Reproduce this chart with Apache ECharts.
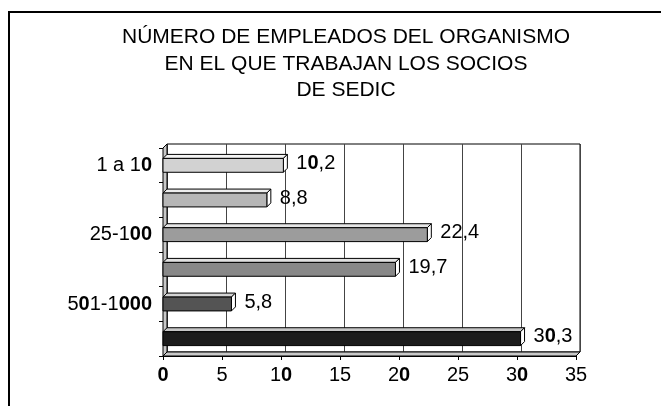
<!doctype html>
<html lang="es">
<head>
<meta charset="UTF-8">
<title>Número de empleados</title>
<script src="https://cdn.jsdelivr.net/npm/echarts@6/dist/echarts.min.js"></script>
<style>
  html, body { margin: 0; padding: 0; background: #fff; }
  #main { width: 661px; height: 406px; }
</style>
</head>
<body>
<div id="main"></div>
<script>
// datos
var categories = ['1 a 10', '11 a 25', '25-100', '101-500', '501-1000', 'Más de 1000'];
var values = [10.2, 8.8, 22.4, 19.7, 5.8, 30.3];
var axisMin = 0, axisMax = 35, axisStep = 5;

// estilos
var barColors = ['#d2d2d2', '#b6b6b6', '#9c9c9c', '#888888', '#545454', '#1c1c1c'];
var FONT = '"Liberation Sans", Arial, sans-serif';
var DEPTH = 4;

// los ceros salen en negrita en el original
function boldZeros(s) { return String(s).replace(/0/g, '{b|0}'); }
function richB(size) { return { b: { fontWeight: 'bold', fontSize: size, fontFamily: FONT, color: '#000' } }; }

function lighten(hex, k) {
  var n = parseInt(hex.slice(1), 16);
  var r = (n >> 16) & 255, g = (n >> 8) & 255, b = n & 255;
  r = Math.round(r + (255 - r) * k); g = Math.round(g + (255 - g) * k); b = Math.round(b + (255 - b) * k);
  return 'rgb(' + r + ',' + g + ',' + b + ')';
}

var myChart = echarts.init(document.getElementById('main'));

var option = {
  animation: false,
  title: {
    text: 'NÚMERO DE EMPLEADOS DEL ORGANISMO\nEN EL QUE TRABAJAN LOS SOCIOS\nDE SEDIC',
    left: 341,
    textAlign: 'center',
    top: 19,
    textStyle: { fontFamily: FONT, fontSize: 21, fontWeight: 'normal', color: '#000', lineHeight: 26.5 }
  },
  graphic: [{
    type: 'rect',
    shape: { x: 9, y: 12, width: 680, height: 420 },
    style: { fill: 'none', stroke: '#000', lineWidth: 2 },
    silent: true
  }],
  grid: [
    { left: 163, right: 85, top: 148, bottom: 50 },
    { left: 163 + DEPTH, right: 85 - DEPTH, top: 148 - DEPTH, bottom: 50 + DEPTH,
      show: true, borderColor: '#000', borderWidth: 1, backgroundColor: 'transparent' }
  ],
  xAxis: [{
    gridIndex: 0, type: 'value', min: axisMin, max: axisMax, interval: axisStep,
    splitLine: { show: false },
    axisLine: { show: true, lineStyle: { color: '#000', width: 1 } },
    axisTick: { show: true, length: 4, lineStyle: { color: '#000' } },
    axisLabel: {
      margin: 9, color: '#000', fontSize: 20, fontFamily: FONT,
      formatter: function (v) { return boldZeros(v); }, rich: richB(20)
    }
  }, {
    gridIndex: 1, type: 'value', min: axisMin, max: axisMax, interval: axisStep,
    axisLine: { show: false }, axisTick: { show: false }, axisLabel: { show: false },
    splitLine: { show: true, lineStyle: { color: '#444', width: 1 } }
  }],
  yAxis: [{
    gridIndex: 0, type: 'category', data: categories, inverse: true,
    axisLine: { show: true, lineStyle: { color: '#000', width: 1 } },
    axisTick: { show: true, interval: 0, length: 4, lineStyle: { color: '#000' } },
    axisLabel: {
      interval: 1, margin: 11, color: '#000', fontSize: 20, fontFamily: FONT,
      formatter: function (v) { return boldZeros(v); }, rich: richB(20)
    }
  }, {
    gridIndex: 1, type: 'category', data: categories, inverse: true, show: false
  }],
  series: [{
    // paredes laterales y suelo
    type: 'custom', xAxisIndex: 0, yAxisIndex: 0, z: 1, silent: true,
    data: [[0, 0]],
    renderItem: function (params, api) {
      var c = params.coordSys, d = DEPTH;
      var x = c.x, y = c.y, w = c.width, h = c.height;
      return {
        type: 'group',
        children: [{
          type: 'polygon',
          shape: { points: [[x, y], [x + d, y - d], [x + d, y + h - d], [x, y + h]] },
          style: { fill: '#c8c8c8', stroke: '#000', lineWidth: 1 }
        }, {
          type: 'polygon',
          shape: { points: [[x, y + h], [x + d, y + h - d], [x + w + d, y + h - d], [x + w, y + h]] },
          style: { fill: '#c8c8c8', stroke: '#000', lineWidth: 1 }
        }]
      };
    }
  }, {
    type: 'custom', xAxisIndex: 0, yAxisIndex: 0, z: 2,
    encode: { x: 0, y: 1 },
    data: values.map(function (v, i) { return [v, i]; }),
    renderItem: function (params, api) {
      var idx = api.value(1);
      var p0 = api.coord([0, idx]);
      var p1 = api.coord([api.value(0), idx]);
      var bh = api.size([0, 1])[1] * 0.4;
      var d = DEPTH;
      var x0 = p0[0], x1 = p1[0], y0 = p0[1] - bh / 2, y1 = y0 + bh;
      var col = barColors[params.dataIndex];
      var txt = String(api.value(0)).replace('.', ',');
      return {
        type: 'group',
        children: [{
          type: 'polygon',
          shape: { points: [[x0, y0], [x1, y0], [x1 + d, y0 - d], [x0 + d, y0 - d]] },
          style: { fill: lighten(col, 0.75), stroke: '#000', lineWidth: 1 }
        }, {
          type: 'polygon',
          shape: { points: [[x1, y0], [x1 + d, y0 - d], [x1 + d, y1 - d], [x1, y1]] },
          style: { fill: '#ffffff', stroke: '#000', lineWidth: 1 }
        }, {
          type: 'rect',
          shape: { x: x0, y: y0, width: x1 - x0, height: bh },
          style: { fill: col, stroke: '#000', lineWidth: 1 }
        }, {
          type: 'text',
          style: {
            x: x1 + d + 9, y: p1[1] - 2, text: boldZeros(txt),
            fill: '#000', fontSize: 20, fontFamily: FONT,
            verticalAlign: 'middle', align: 'left', rich: richB(20)
          }
        }]
      };
    }
  }]
};

myChart.setOption(option);
</script>
</body>
</html>
